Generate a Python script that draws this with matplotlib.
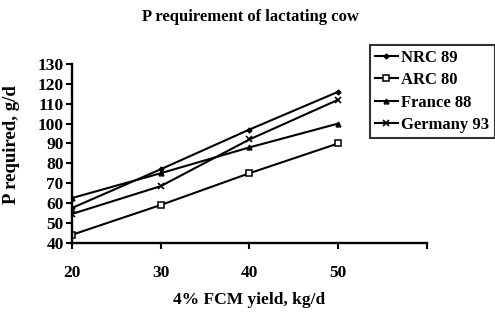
import matplotlib.pyplot as plt

# FCM yield (kg/d) and P requirement (g/d) per standard
yield_kg = [20, 30, 40, 50]
nrc_89 = [57.5, 77, 97, 116]
arc_80 = [44, 59, 75, 90]
france_88 = [62.5, 75, 88, 100]
germany_93 = [54.5, 68.5, 92, 112]

plt.rcParams['font.family'] = ['Liberation Serif', 'DejaVu Serif']
plt.rcParams['font.weight'] = 'bold'

fig = plt.figure(figsize=(4.95, 3.12), dpi=100)
ax = fig.add_axes([0.1455, 0.222, 0.717, 0.573])

kw = dict(color='black', lw=1.5)
ax.plot(yield_kg, nrc_89, marker='D', ms=2.5, label='NRC 89', **kw)
ax.plot(yield_kg, arc_80, marker='s', ms=5, mfc='white', mew=1.1, label='ARC 80', **kw)
ax.plot(yield_kg, france_88, marker='^', ms=3.5, label='France 88', **kw)
ax.plot(yield_kg, germany_93, marker='x', ms=4.5, mew=1.2, label='Germany 93', **kw)

ax.set_xlim(20, 60)
ax.set_ylim(40, 130)
ax.set_xticks([20, 30, 40, 50, 60])
ax.set_xticklabels(['20', '30', '40', '50', ''])
ax.set_yticks(range(40, 131, 10))
ax.tick_params(axis='both', labelsize=12.5, width=1.5, length=4, direction='out')
ax.tick_params(axis='x', pad=12)
ax.tick_params(axis='y', pad=2)
for s in ['top', 'right']:
    ax.spines[s].set_visible(False)
for s in ['left', 'bottom']:
    ax.spines[s].set_linewidth(1.7)

ax.set_xlabel('4% FCM yield, kg/d', fontsize=12.5, fontweight='bold', labelpad=8)
ax.set_ylabel('P required, g/d', fontsize=13.5, fontweight='bold')
ax.yaxis.set_label_coords(-0.146, 0.55)
fig.text(0.505, 0.945, 'P requirement of lactating cow', ha='center', va='center',
         fontsize=12, fontweight='bold')

leg = fig.legend(loc='upper left', bbox_to_anchor=(0.747, 0.856),
                 prop={'size': 12, 'weight': 'bold'},
                 frameon=True, fancybox=False, edgecolor='black', borderpad=0.3,
                 handlelength=1.4, handletextpad=0.2, labelspacing=0.38,
                 borderaxespad=0)
leg.get_frame().set_linewidth(1.5)

fig.savefig('out.png', dpi=100)
